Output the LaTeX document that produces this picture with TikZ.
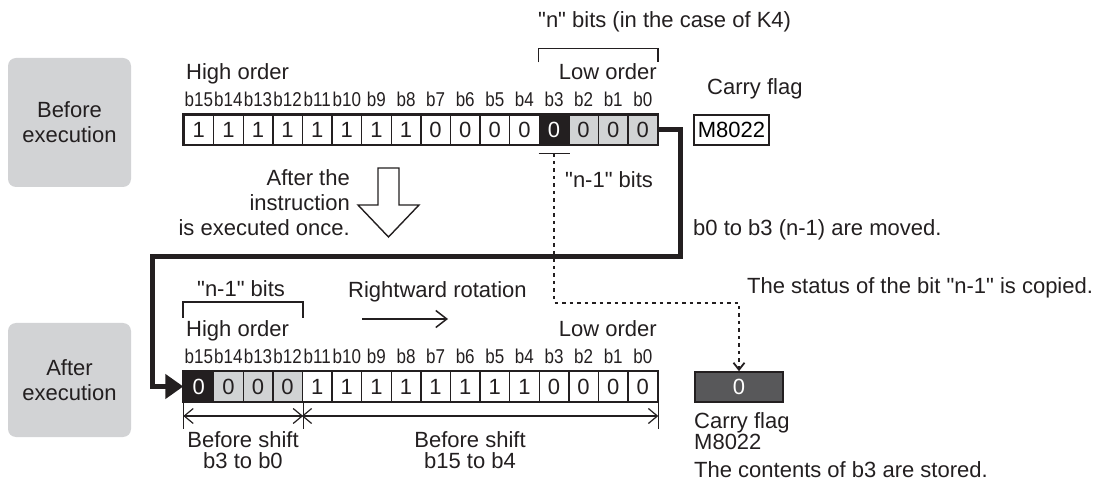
\documentclass[tikz,border=0pt]{standalone}
\usepackage{fontspec}
\setmainfont{Liberation Sans}[Ligatures=TeXOff]
\newfontfamily\bitfont[FakeStretch=0.85,Ligatures=TeXOff]{Liberation Sans}
\usepackage{xcolor}
\usepackage{tikz}
\usetikzlibrary{arrows.meta,positioning}

\definecolor{inkblack}{RGB}{35,31,32}
\definecolor{stagegray}{RGB}{210,211,213}
\definecolor{cellgray}{RGB}{209,211,212}
\definecolor{flaggray}{RGB}{88,88,90}

\tikzset{
    txt/.style={inner sep=0pt, text=inkblack, font=\fontsize{22}{25}\selectfont},
    stagebox/.style={fill=stagegray, rounded corners=8pt, minimum width=123pt, align=center, text=inkblack, font=\fontsize{22}{25}\selectfont},
    bitcell/.style={draw=inkblack, line width=1.4pt, minimum width=29.6pt, minimum height=29.6pt, inner sep=0pt, text=inkblack, font=\fontsize{22}{25}\selectfont},
    cellplain/.style={fill=white},
    cellhot/.style={fill=inkblack, text=white},
    cellshade/.style={fill=cellgray},
    bitlbl/.style={anchor=base, inner sep=0pt, text=inkblack, font=\bitfont\fontsize{20}{22}\selectfont},
    frameline/.style={draw=inkblack, line width=2pt},
    bracketline/.style={draw=inkblack, line width=1.8pt},
    dimtick/.style={draw=inkblack, line width=1.2pt},
    dimline/.style={draw=inkblack, line width=1.2pt, {Straight Barb[length=9pt,width=15pt]}-{Straight Barb[length=9pt,width=15pt]}},
    rotline/.style={draw=inkblack, line width=5pt, line join=miter, -{Triangle[length=18pt,width=24pt]}},
    dirarrow/.style={draw=inkblack, line width=1.5pt, -{Straight Barb[length=11pt,width=17pt]}},
    copyline/.style={draw=inkblack, line width=1.8pt, dash pattern=on 3.5pt off 4pt, -{Straight Barb[length=7pt,width=11pt]}},
    flagbox/.style={draw=inkblack, line width=1.6pt, minimum height=30pt, inner sep=0pt, font=\fontsize{22}{25}\selectfont},
}

\begin{document}
\begin{tikzpicture}[x=1pt, y=-1pt]
    \useasboundingbox (0,0) rectangle (1101,486);

    \node[stagebox, minimum height=129pt] (before) at (69.5,122.5) {Before\\execution};
    \node[stagebox, minimum height=114pt] (after) at (69.5,380) {After\\execution};

    \foreach \b/\v/\s in {15/1/cellplain,14/1/cellplain,13/1/cellplain,12/1/cellplain,11/1/cellplain,10/1/cellplain,9/1/cellplain,8/1/cellplain,7/0/cellplain,6/0/cellplain,5/0/cellplain,4/0/cellplain,3/0/cellhot,2/0/cellshade,1/0/cellshade,0/0/cellshade}{
        \node[bitcell, \s] (t\b) at ({198.8+(15-\b)*29.6},130) {\v};
        \node[bitlbl] (tl\b) at ([yshift=8pt]t\b.north) {b\b};
    }
    \draw[frameline] (t15.north west) rectangle (t0.south east);

    \foreach \b/\v/\s in {15/0/cellhot,14/0/cellshade,13/0/cellshade,12/0/cellshade,11/1/cellplain,10/1/cellplain,9/1/cellplain,8/1/cellplain,7/1/cellplain,6/1/cellplain,5/1/cellplain,4/1/cellplain,3/0/cellplain,2/0/cellplain,1/0/cellplain,0/0/cellplain}{
        \node[bitcell, \s] (u\b) at ({198.8+(15-\b)*29.6},386.5) {\v};
        \node[bitlbl] (ul\b) at ([yshift=8pt]u\b.north) {b\b};
    }
    \draw[frameline] (u15.north west) rectangle (u0.south east);

    \node[txt, anchor=base west] (hightop) at (186,80) {High order};
    \node[txt, anchor=base east] (lowtop) at (657,80) {Low order};
    \node[txt, anchor=base west] (nbits) at (538,28) {"n" bits (in the case of K4)};
    \draw[bracketline] ([yshift=52pt]t3.north west) -- ++(0,-14) -| ([yshift=52pt]t0.north east);

    \node[txt, anchor=base west] (carrytxt) at (707,95) {Carry flag};
    \node[flagbox, minimum width=75pt] (carrytop) at (731.5,130) {M8022};

    \draw[bracketline] ([yshift=-8pt]t3.south west) -- ([yshift=-8pt]t3.south east);
    \coordinate (b3tick) at ([yshift=-8pt]t3.south);
    \node[txt, anchor=base west] (nonebits) at (565,188) {"n-1" bits};

    \draw[line width=1.4pt, draw=inkblack, fill=white, line join=miter] (378,168) -- (399,168) -- (399,205) -- (419,205) -- (388.5,237) -- (358,205) -- (378,205) -- cycle;
    \node[txt, align=right, anchor=north east] (oncetxt) at (350,169) {After the\\instruction\\is executed once.};

    \node[txt, anchor=base west] (movedtxt) at (693,236) {b0 to b3 (n-1) are moved.};
    \node[txt, anchor=base west] (statustxt) at (747,294) {The status of the bit "n-1" is copied.};

    \node[flagbox, minimum width=88pt, fill=flaggray, text=white] (carrybot) at (739,387) {0};
    \coordinate (copyturn) at (carrybot.north |- 0,303);
    \draw[copyline] (b3tick) |- (copyturn) -- (carrybot.north);

    \coordinate (turnr) at (680,257);
    \coordinate (turnl) at (152,257);
    \draw[rotline] (t0.east) -| (turnr) -- (turnl) |- (u15.west);

    \node[txt, anchor=base west] (nonebitsb) at (197,297) {"n-1" bits};
    \draw[bracketline] ([yshift=53pt]u15.north west) -- ++(0,-16) -| ([yshift=53pt]u12.north east);
    \node[txt, anchor=base west] (highbot) at (186,337) {High order};
    \node[txt, anchor=base east] (lowbot) at (657,337) {Low order};

    \node[txt, anchor=base west] (rottxt) at (348,298) {Rightward rotation};
    \coordinate (rotfrom) at (362,319);
    \coordinate (rotto) at (448,319);
    \draw[dirarrow] (rotfrom) -- (rotto);

    \draw[dimtick] (u15.south west) -- ++(0,27);
    \draw[dimtick] (u12.south east) -- ++(0,27);
    \draw[dimtick] (u0.south east) -- ++(0,27);
    \draw[dimline] ([yshift=-14pt]u15.south west) -- ([yshift=-14pt]u12.south east);
    \draw[dimline] ([yshift=-14pt]u11.south west) -- ([yshift=-14pt]u0.south east);
    \node[txt, align=center, anchor=north, font=\fontsize{22}{21}\selectfont] (shiftlo) at (243,431) {Before shift\\b3 to b0};
    \node[txt, align=center, anchor=north, font=\fontsize{22}{21}\selectfont] (shifthi) at (470,431) {Before shift\\b15 to b4};

    \node[txt, align=left, anchor=north west, font=\fontsize{22}{21}\selectfont] (carrylbl) at (694,412) {Carry flag\\M8022};
    \node[txt, anchor=base west] (storedtxt) at (694,477) {The contents of b3 are stored.};
\end{tikzpicture}
\end{document}
